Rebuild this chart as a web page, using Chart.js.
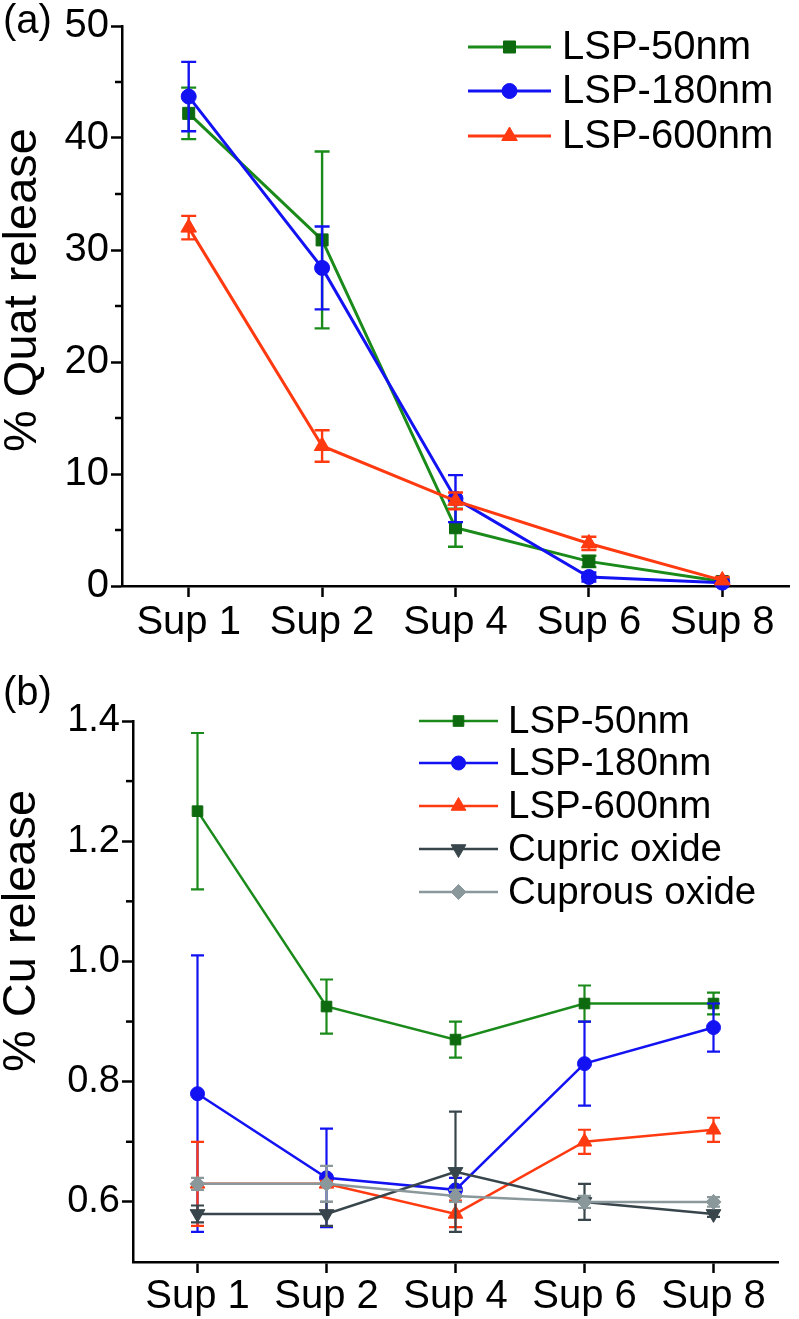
<!DOCTYPE html>
<html>
<head>
<meta charset="utf-8">
<script src="https://cdn.jsdelivr.net/npm/chart.js@4.4.1/dist/chart.umd.min.js"></script>
<style>
  html, body { margin: 0; padding: 0; background: #ffffff; }
  #wrap { position: relative; width: 799px; height: 1319px; overflow: hidden; background: #fff; }
  canvas { position: absolute; left: 0; }
  #cA { top: 0; }
  #cB { top: 660px; }
</style>
</head>
<body>
<div id="wrap">
  <canvas id="cA" width="799" height="660"></canvas>
  <canvas id="cB" width="799" height="659"></canvas>
</div>
<script>
// ---------- DATA ----------
const categories = ["Sup 1", "Sup 2", "Sup 4", "Sup 6", "Sup 8"];

// Panel (a): % Quat release
const quat50  = [42.2, 30.9, 5.2, 2.2, 0.4];
const quat50Err  = [2.3, 7.9, 1.7, 0.5, 0.3];
const quat180 = [43.7, 28.4, 7.8, 0.8, 0.3];
const quat180Err = [3.1, 3.7, 2.1, 0.4, 0.2];
const quat600 = [32.0, 12.5, 7.6, 3.8, 0.5];
const quat600Err = [1.05, 1.4, 0.75, 0.6, 0.3];
const quatTicks = [0, 10, 20, 30, 40, 50];
const quatMinorTicks = [5, 15, 25, 35, 45];

// Panel (b): % Cu release
const cu50      = [1.25, 0.925, 0.87, 0.93, 0.93];
const cu50Err   = [0.13, 0.045, 0.03, 0.03, 0.018];
const cu180     = [0.78, 0.64, 0.62, 0.83, 0.89];
const cu180Err  = [0.23, 0.082, 0.02, 0.07, 0.04];
const cu600     = [0.63, 0.63, 0.58, 0.70, 0.72];
const cu600Err  = [0.07, 0.005, 0.022, 0.02, 0.02];
const cuCupric     = [0.58, 0.58, 0.65, 0.60, 0.58];
const cuCupricErr  = [0.014, 0.02, 0.10, 0.03, 0.005];
const cuCuprous    = [0.63, 0.63, 0.61, 0.60, 0.60];
const cuCuprousErr = [0.01, 0.03, 0.01, 0.01, 0.008];
const cuTicks = [0.6, 0.8, 1.0, 1.2, 1.4];
const cuMinorTicks = [0.7, 0.9, 1.1, 1.3];

const seriesNamesA = ["LSP-50nm", "LSP-180nm", "LSP-600nm"];
const seriesNamesB = ["LSP-50nm", "LSP-180nm", "LSP-600nm", "Cupric oxide", "Cuprous oxide"];

// ---------- STYLE ----------
const FONT = "'Liberation Sans', Arial, Helvetica, sans-serif";
const styles = [
  { line: '#1a8a1a', fill: '#0e6a0e', pointStyle: 'rect',     rot: 0,   rA: 8.5, rB: 7.5 },
  { line: '#1212f2', fill: '#1212f2', pointStyle: 'circle',   rot: 0,   rA: 7.5, rB: 7 },
  { line: '#ff3a10', fill: '#ff3a10', pointStyle: 'triangle', rot: 0,   rA: 9,   rB: 8.5 },
  { line: '#38464c', fill: '#38464c', pointStyle: 'triangle', rot: 180, rA: 8.5, rB: 8.5 },
  { line: '#8a989c', fill: '#8a989c', pointStyle: 'rectRot',  rot: 0,   rA: 7.5, rB: 7.5 }
];

const ERRORS = {
  cA: [quat50Err, quat180Err, quat600Err],
  cB: [cu50Err, cu180Err, cu600Err, cuCupricErr, cuCuprousErr]
};

const DECOR = {
  cA: {
    panel: { text: '(a)', x: 3, y: 22, size: 40 },
    title: { text: '% Quat release', x: 23, y: 290, size: 47 },
    minor: quatMinorTicks, minorLen: 7,
    legend: { names: seriesNamesA, ys: [47, 91, 136], x0: 468, x1: 551, tx: 562, size: 40, lw: 3, radius: 'rA' },
    errWidth: 2.4, cap: 7.5
  },
  cB: {
    panel: { text: '(b)', x: 3, y: 34, size: 40 },
    title: { text: '% Cu release', x: 22, y: 271, size: 47 },
    minor: cuMinorTicks, minorLen: 7,
    legend: { names: seriesNamesB, ys: [61, 103, 146, 189, 232], x0: 419, x1: 498, tx: 508, size: 38.5, lw: 2.5, radius: 'rB' },
    errWidth: 2.2, cap: 6.5
  }
};

const decorPlugin = {
  id: 'decor',
  beforeDatasetDraw(chart, args) {
    const id = chart.canvas.id;
    const d = DECOR[id];
    const err = ERRORS[id][args.index];
    const ds = chart.data.datasets[args.index];
    const ys = chart.scales.y;
    const ctx = chart.ctx;
    ctx.save();
    ctx.strokeStyle = ds.borderColor;
    ctx.lineWidth = d.errWidth;
    args.meta.data.forEach((pt, i) => {
      const v = ds.data[i], e = err[i];
      const yt = ys.getPixelForValue(v + e);
      const yb = ys.getPixelForValue(v - e);
      const x = pt.x, c = d.cap;
      ctx.beginPath();
      ctx.moveTo(x, yt); ctx.lineTo(x, yb);
      ctx.moveTo(x - c, yt); ctx.lineTo(x + c, yt);
      ctx.moveTo(x - c, yb); ctx.lineTo(x + c, yb);
      ctx.stroke();
    });
    ctx.restore();
  },
  afterDraw(chart) {
    const id = chart.canvas.id;
    const d = DECOR[id];
    const ctx = chart.ctx;
    const ys = chart.scales.y;
    const left = chart.chartArea.left;
    ctx.save();
    // minor ticks
    ctx.strokeStyle = '#000';
    ctx.lineWidth = 2.5;
    d.minor.forEach(v => {
      const y = ys.getPixelForValue(v);
      ctx.beginPath();
      ctx.moveTo(left - d.minorLen, y);
      ctx.lineTo(left, y);
      ctx.stroke();
    });
    // panel label
    ctx.fillStyle = '#000';
    ctx.font = d.panel.size + 'px ' + FONT;
    ctx.textAlign = 'left';
    ctx.textBaseline = 'middle';
    ctx.fillText(d.panel.text, d.panel.x, d.panel.y);
    // y title
    ctx.save();
    ctx.translate(d.title.x, d.title.y);
    ctx.rotate(-Math.PI / 2);
    ctx.textAlign = 'center';
    ctx.textBaseline = 'middle';
    ctx.font = d.title.size + 'px ' + FONT;
    ctx.fillText(d.title.text, 0, 0);
    ctx.restore();
    // legend
    const L = d.legend;
    L.names.forEach((name, i) => {
      const s = styles[i];
      const y = L.ys[i];
      ctx.strokeStyle = s.line;
      ctx.lineWidth = L.lw;
      ctx.beginPath();
      ctx.moveTo(L.x0, y); ctx.lineTo(L.x1, y);
      ctx.stroke();
      ctx.fillStyle = s.fill;
      ctx.strokeStyle = s.fill;
      ctx.lineWidth = 1;
      Chart.helpers.drawPoint(ctx, { pointStyle: s.pointStyle, rotation: s.rot, radius: s[L.radius], borderWidth: 1 }, (L.x0 + L.x1) / 2, y);
      ctx.fillStyle = '#000';
      ctx.font = L.size + 'px ' + FONT;
      ctx.textAlign = 'left';
      ctx.textBaseline = 'middle';
      ctx.fillText(name, L.tx, y + 1);
    });
    ctx.restore();
  }
};

function makeDatasets(seriesList, names, rKey, bw) {
  const n = seriesList.length;
  return seriesList.map((data, i) => ({
    label: names[i],
    data: data,
    borderColor: styles[i].line,
    backgroundColor: styles[i].fill,
    borderWidth: bw,
    tension: 0,
    pointStyle: styles[i].pointStyle,
    pointRotation: styles[i].rot,
    pointRadius: styles[i][rKey],
    pointBackgroundColor: styles[i].fill,
    pointBorderColor: styles[i].fill,
    pointBorderWidth: 1,
    clip: false,
    order: n - i
  }));
}

function makeChart(canvasId, datasets, yMin, yMax, yTickVals, fmt, yWidth, xHeight, padding, yFont, xFont, xPad) {
  return new Chart(document.getElementById(canvasId), {
    type: 'line',
    data: { labels: categories, datasets: datasets },
    plugins: [decorPlugin],
    options: {
      responsive: false,
      animation: false,
      devicePixelRatio: 1,
      layout: { padding: padding },
      plugins: { legend: { display: false }, tooltip: { enabled: false } },
      scales: {
        x: {
          type: 'category',
          offset: true,
          grid: { display: true, drawOnChartArea: false, drawTicks: true, tickLength: 11, tickWidth: 2.5, tickColor: '#000', offset: false },
          border: { display: true, color: '#000', width: 2.5 },
          ticks: { color: '#000', font: { family: FONT, size: xFont }, padding: xPad, maxRotation: 0, autoSkip: false },
          afterFit(scale) { scale.height = xHeight; }
        },
        y: {
          type: 'linear',
          min: yMin, max: yMax,
          grid: { display: true, drawOnChartArea: false, drawTicks: true, tickLength: 11, tickWidth: 2.5, tickColor: '#000' },
          border: { display: true, color: '#000', width: 2.5 },
          ticks: { color: '#000', font: { family: FONT, size: yFont }, padding: 2, callback: fmt },
          afterBuildTicks(scale) { scale.ticks = yTickVals.map(v => ({ value: v })); },
          afterFit(scale) { scale.width = yWidth; }
        }
      }
    }
  });
}

makeChart('cA',
  makeDatasets([quat50, quat180, quat600], seriesNamesA, 'rA', 3),
  0, 50, quatTicks, v => String(v), 122, 74,
  { left: 0, top: 25, right: 6, bottom: 0 }, 40, 40, 2);

makeChart('cB',
  makeDatasets([cu50, cu180, cu600, cuCupric, cuCuprous], seriesNamesB, 'rB', 2.5),
  0.5, 1.4, cuTicks, v => Number(v).toFixed(1), 133, 57,
  { left: 0, top: 61, right: 21, bottom: 0 }, 38, 40, 0);
</script>
</body>
</html>
